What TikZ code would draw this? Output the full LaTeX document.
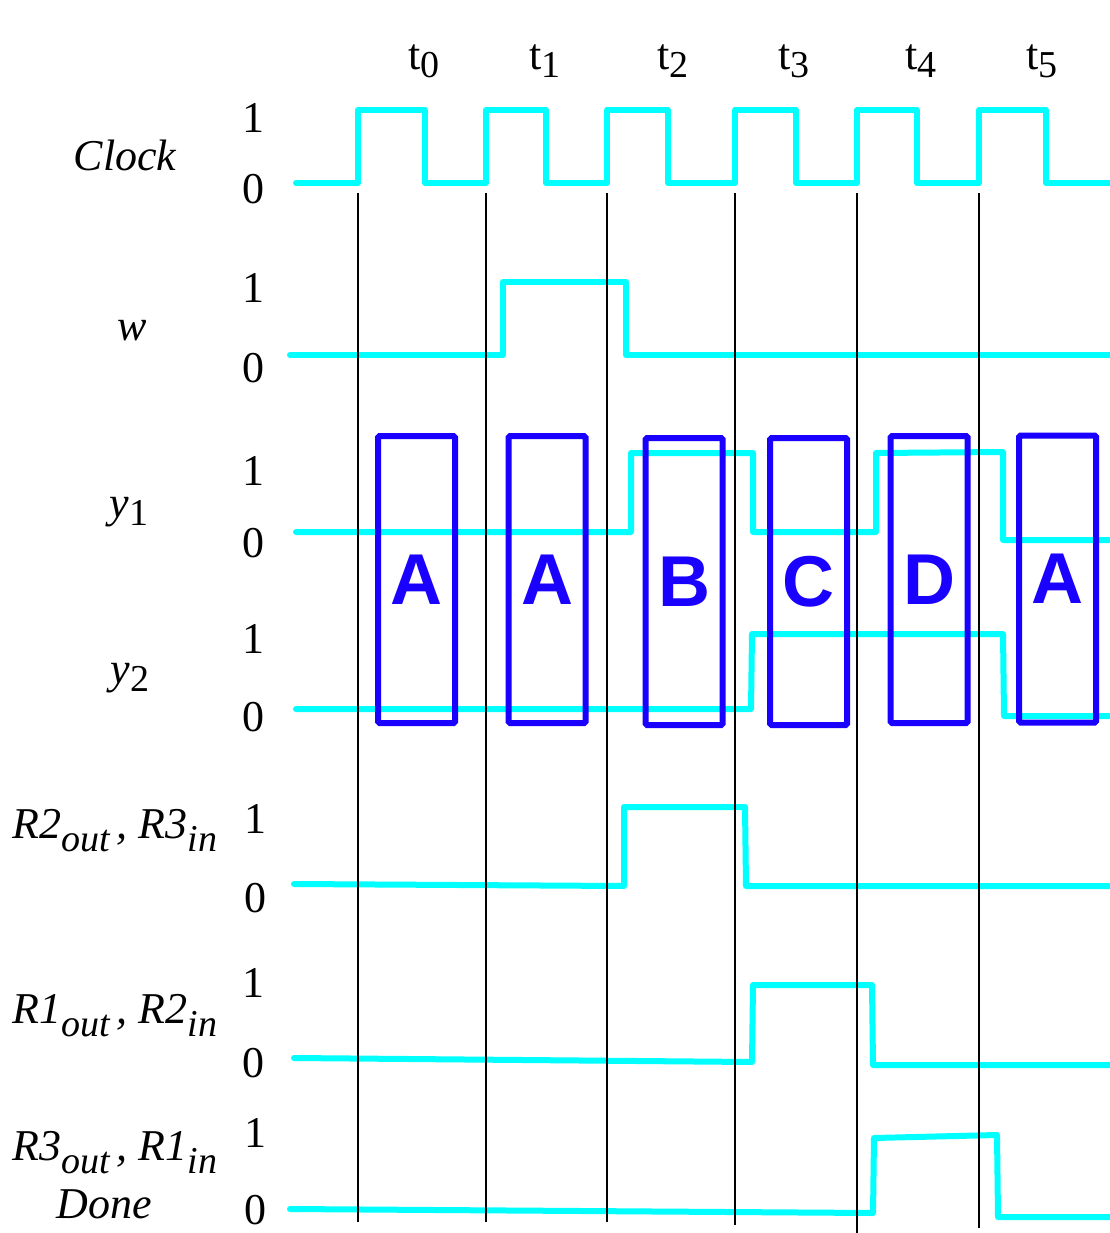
\documentclass[tikz,border=0pt]{standalone}
\usepackage{fontspec}
\setmainfont{Liberation Serif}
\setsansfont{Liberation Sans}
\definecolor{sig}{RGB}{0,255,255}
\definecolor{boxblue}{RGB}{26,0,255}
\newcommand{\lowsub}[1]{\raisebox{-8pt}{\fontsize{38}{38}\selectfont #1}}
\newcommand{\rsub}[1]{\raisebox{-13pt}{\fontsize{38}{38}\selectfont\itshape #1}}
\begin{document}
\begin{tikzpicture}[x=1pt,y=-1pt,
  sigline/.style={draw=sig, line width=6pt, line join=round, line cap=round},
  tickline/.style={draw=black, line width=2pt},
  statebox/.style={draw=boxblue, line width=6pt, rounded corners=1.5pt, inner sep=0pt,
    minimum width=77pt, minimum height=287pt, text=boxblue,
    font=\sffamily\bfseries\fontsize{72}{72}\selectfont},
  lvl/.style={inner sep=0pt, anchor=base, font=\fontsize{44}{44}\selectfont},
  signame/.style={inner sep=0pt, anchor=base, font=\itshape\fontsize{44}{44}\selectfont},
  rname/.style={inner sep=0pt, anchor=base west, font=\itshape\fontsize{44}{44}\selectfont},
  tlabel/.style={inner sep=0pt, anchor=base, font=\fontsize{44}{44}\selectfont}
  ]
\useasboundingbox (0,0) rectangle (1109,1233);

% time labels
\node[tlabel] (t0) at (424,70) {t\lowsub{0}};
\node[tlabel] (t1) at (545,70) {t\lowsub{1}};
\node[tlabel] (t2) at (673,70) {t\lowsub{2}};
\node[tlabel] (t3) at (794,70) {t\lowsub{3}};
\node[tlabel] (t4) at (921,70) {t\lowsub{4}};
\node[tlabel] (t5) at (1042,70) {t\lowsub{5}};

% signal names
\node[signame] (nclk) at (125,171) {Clock};
\node[signame] (nw) at (132,340) {w};
\node[signame] (ny1) at (129,517) {y\lowsub{\upshape 1}};
\node[signame] (ny2) at (130,683) {y\lowsub{\upshape 2}};
\node[rname] (nr2) at (12,838) {R2\rsub{out}\,, R3\rsub{in}};
\node[rname] (nr1) at (12,1023) {R1\rsub{out}\,, R2\rsub{in}};
\node[rname] (nr3) at (12,1160) {R3\rsub{out}\,, R1\rsub{in}};
\node[signame] (ndone) at (104,1218) {Done};

% level labels
\node[lvl] (c1) at (253,133) {1};
\node[lvl] (c0) at (253,204) {0};
\node[lvl] (w1) at (253,302) {1};
\node[lvl] (w0) at (253,382) {0};
\node[lvl] (ya1) at (253,485) {1};
\node[lvl] (ya0) at (253,557) {0};
\node[lvl] (yb1) at (253,653) {1};
\node[lvl] (yb0) at (253,731) {0};
\node[lvl] (ra1) at (255,833) {1};
\node[lvl] (ra0) at (255,912) {0};
\node[lvl] (rb1) at (253,997) {1};
\node[lvl] (rb0) at (253,1077) {0};
\node[lvl] (rc1) at (255,1147) {1};
\node[lvl] (rc0) at (255,1224) {0};

% waveforms
\draw[sigline] (296,183) -- (358,183) -- (358,110) -- (425,110) -- (425,183) -- (486,183)
  -- (486,110) -- (546,110) -- (546,183) -- (607,183) -- (607,110) -- (668,110) -- (668,183)
  -- (735,183) -- (735,110) -- (796,110) -- (796,183) -- (857,183) -- (857,110) -- (917,110)
  -- (917,183) -- (979,183) -- (979,110) -- (1046,110) -- (1046,183) -- (1112,183);
\draw[sigline] (290,355) -- (503,355) -- (503,282) -- (626,282) -- (626,355) -- (1112,355);
\draw[sigline] (296,532) -- (631,532) -- (631,453) -- (753,453) -- (753,532) -- (876,532)
  -- (876,453) -- (1003,452) -- (1003,540) -- (1112,540);
\draw[sigline] (296,709) -- (751,709) -- (752,634) -- (1003,634) -- (1004,716) -- (1112,716);
\draw[sigline] (294,884) -- (624,886) -- (624,807) -- (745,807) -- (746,886) -- (1112,886);
\draw[sigline] (294,1058) -- (752,1062) -- (753,985) -- (872,985) -- (873,1065) -- (1112,1065);
\draw[sigline] (290,1209) -- (873,1213) -- (874,1138) -- (997,1135) -- (998,1217) -- (1112,1217);

% clock edge markers
\coordinate (v1a) at (358,193); \coordinate (v1b) at (358,1222);
\coordinate (v2a) at (486,193); \coordinate (v2b) at (486,1222);
\coordinate (v3a) at (607,193); \coordinate (v3b) at (607,1222);
\coordinate (v4a) at (735,193); \coordinate (v4b) at (735,1225);
\coordinate (v5a) at (857,193); \coordinate (v5b) at (857,1233);
\coordinate (v6a) at (979,193); \coordinate (v6b) at (979,1228);
\draw[tickline] (v1a) -- (v1b);
\draw[tickline] (v2a) -- (v2b);
\draw[tickline] (v3a) -- (v3b);
\draw[tickline] (v4a) -- (v4b);
\draw[tickline] (v5a) -- (v5b);
\draw[tickline] (v6a) -- (v6b);

% state boxes
\node[statebox] (sA1) at (416.5,579.5) {A};
\node[statebox] (sA2) at (547,579.5) {A};
\node[statebox] (sB) at (684,581.5) {B};
\node[statebox] (sC) at (808.5,581.5) {C};
\node[statebox] (sD) at (929,579.5) {D};
\node[statebox] (sA3) at (1057.5,579) {A};
\end{tikzpicture}
\end{document}
